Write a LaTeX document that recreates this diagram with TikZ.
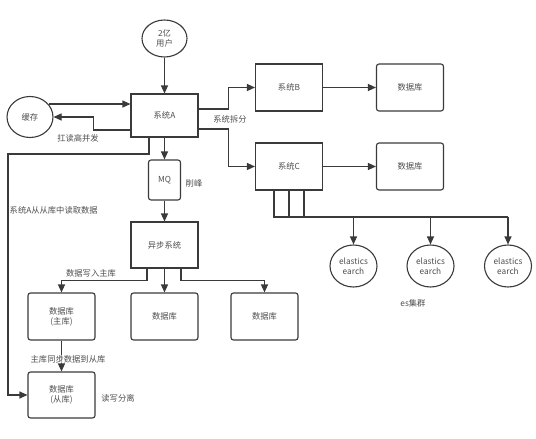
\documentclass[tikz,border=0pt]{standalone}
\usepackage{fontspec}
\setmainfont{Noto Sans CJK SC}
\usetikzlibrary{arrows.meta,shapes.geometric}
\definecolor{ink}{HTML}{3A3A3A}

\begin{document}
\begin{tikzpicture}[x=1pt,y=-1pt,
  font=\fontsize{8.3}{10}\selectfont,
  box/.style={draw=ink,line width=1.1pt,minimum width=67pt,minimum height=46pt,inner sep=1pt,text=ink!90,align=center},
  db/.style={box,rounded corners=2.5pt},
  ell/.style={ellipse,draw=ink,line width=1.1pt,minimum width=46pt,minimum height=41pt,inner sep=0pt,text=ink!90,align=center},
  ln/.style={draw=ink,line width=1.1pt},
  arr/.style={ln,-{Triangle[length=8pt,width=7pt]}},
  lab/.style={inner sep=0pt,text=ink!90}]
  \useasboundingbox (0,0) rectangle (536,439);
  % users, cache and the entry system
  \node[ell,minimum width=45pt,minimum height=37pt] (users) at (164.5,38.5) {2亿\\用户};
  \node[box,minimum height=43pt] (sysA) at (164.5,115.5) {系统A};
  \node[ell] (cache) at (30,117) {缓存};
  \draw[arr] (users) -- (sysA);
  \draw[arr] (cache.35) -- (cache.35 -| sysA.west);
  \draw[arr] ([yshift=-14.5pt]sysA.west) -- ++(-37,0) |- (cache.east);
  \node[lab] (lcache) at (78,138) {扛读高并发};
  % split into B and C
  \node[box,minimum height=47pt] (sysB) at (289,87.5) {系统B};
  \node[box,minimum height=47pt] (sysC) at (289,166.5) {系统C};
  \node[db,minimum height=47pt] (dbB) at (410,87.5) {数据库};
  \node[db,minimum height=47pt] (dbC) at (410,166.5) {数据库};
  \draw[arr] ([yshift=6.5pt]sysA.east) -- ++(30,0) |- (sysB.west);
  \draw[arr] ([yshift=-13.5pt]sysA.east) -- ++(30,0) |- (sysC.west);
  \node[lab] (lsplit) at (230,119) {系统拆分};
  \draw[arr] (sysB) -- (dbB);
  \draw[arr] (sysC) -- (dbC);
  % es cluster
  \foreach \k/\x in {1/353.5,2/430.5,3/508} \node[ell,minimum width=47pt,minimum height=42pt] (es\k) at (\x,266) {elastics\\earch};
  \coordinate (busL) at (274,217);
  \coordinate (busR) at (508,217);
  \foreach \s in {-15,0,15} \draw[ln] ([xshift=\s pt]sysC.south) -- ++(0,27);
  \draw[ln] (busL) -- (busR);
  \foreach \k in {1,2,3} \draw[arr] (es\k |- busL) -- (es\k);
  \node[lab] (les) at (413,303) {es集群};
  % MQ and async writes
  \node[db,minimum width=32pt,minimum height=40pt] (mq) at (164.5,180) {MQ};
  \node[lab] (lmq) at (194,183) {削峰};
  \node[box] (async) at (164.5,245) {异步系统};
  \draw[arr] (sysA) -- (mq);
  \draw[arr] (mq) -- (async);
  \node[db,minimum height=47pt] (dbMain) at (61.5,316.5) {数据库\\(主库)};
  \node[db,minimum height=47pt] (db2) at (164.5,316.5) {数据库};
  \node[db,minimum height=47pt] (db3) at (264.5,316.5) {数据库};
  \draw[arr] ([xshift=-17.5pt]async.south) -- ++(0,12) -| (dbMain.north);
  \draw[arr] (async) -- (db2);
  \draw[arr] ([xshift=16.5pt]async.south) -- ++(0,12) -| (db3.north);
  \node[lab] (lwrite) at (91,273) {数据写入主库};
  % read from slave
  \node[db,minimum height=46pt] (dbSlave) at (61.5,395) {数据库\\(从库)};
  \draw[arr] (dbMain) -- (dbSlave);
  \node[lab,fill=white,fill opacity=0.6,text opacity=1] (lsync) at (68,359) {主库同步数据到从库};
  \coordinate (rail) at (8,154);
  \draw[arr] ([xshift=-15.5pt]sysA.south) |- (rail) |- (dbSlave.west);
  \node[lab,anchor=west] (lread) at (9.5,210) {系统A从从库中读取数据};
  \node[lab] (lsep) at (118,398) {读写分离};
\end{tikzpicture}
\end{document}
